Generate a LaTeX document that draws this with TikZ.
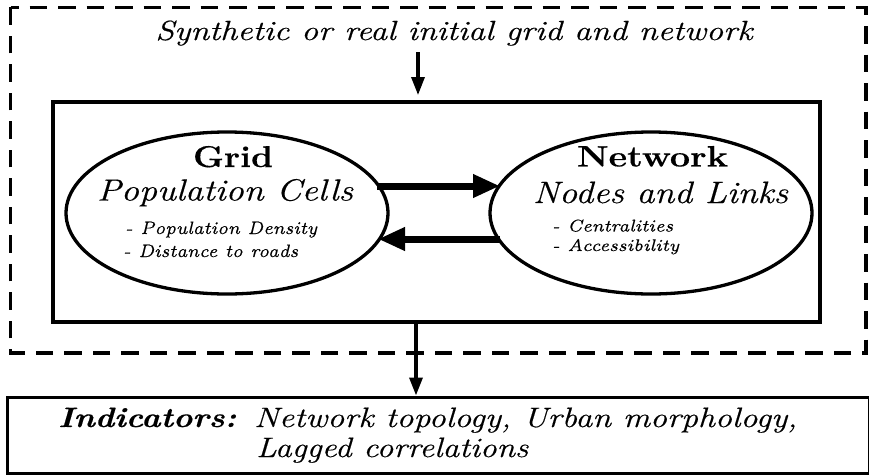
\documentclass[tikz,border=0pt]{standalone}
\usepackage{fontspec}
\setmainfont{Latin Modern Roman}[FakeBold=0.4]
\usetikzlibrary{arrows.meta,shapes.geometric,calc}
% fit a text to a given width and height above baseline (in pt = px)
\newcommand\fitto[4]{\resizebox{#1pt}{#2pt}{\fontsize{#3}{#3}\selectfont #4}}
\begin{document}
\begin{tikzpicture}[x=1pt,y=-1pt,
  thickline/.style={line width=3.3pt},
  lab/.style={inner sep=0pt,anchor=base},
  labw/.style={inner sep=0pt,anchor=base west},
  ell/.style={ellipse,draw,line width=3.3pt,minimum width=322pt,minimum height=162pt,inner sep=0pt},
  bigarrow/.style={line width=7pt,-{Triangle[length=27pt,width=22pt]}},
  smallarrow/.style={line width=3.3pt,-{Triangle[length=18pt,width=13pt]}},
  dashbox/.style={line width=3.3pt,dash pattern=on 17.5pt off 11pt,dash phase=9.5pt}
  ]
\useasboundingbox (0,0) rectangle (869,474);
% outer dashed frame
\draw[dashbox] (10.7,7.3) -- (866,7.3) -- (866,353) -- (10.7,353) -- cycle;
% top text
\node[lab] (src) at (454,40) {\fitto{597}{19.5}{12}{\itshape Synthetic or real initial grid and network}};
% inner box
\node[draw,thickline,minimum width=767pt,minimum height=220pt,inner sep=0pt] (inner) at (436.5,212) {};
% ellipses
\node[ell] (grid) at (227,213) {};
\node[ell] (net) at (651,213) {};
% grid texts
\node[lab] (gt) at (233,167) {\fitto{80}{21}{12}{\bfseries Grid}};
\node[lab] (gs) at (225,200.5) {\fitto{256}{21.5}{12}{\itshape Population Cells}};
\node[labw] (g1) at (125,234) {\fitto{192}{12.5}{7}{\itshape - Population Density}};
\node[labw] (g2) at (123,257) {\fitto{175}{12.5}{7}{\itshape - Distance to roads}};
% network texts
\node[lab] (nt) at (652.5,166.5) {\fitto{151}{20.5}{12}{\bfseries Network}};
\node[lab] (ns) at (660.5,203) {\fitto{255}{21.5}{12}{\itshape Nodes and Links}};
\node[labw] (n1) at (552,231.5) {\fitto{121}{12}{7}{\itshape - Centralities}};
\node[labw] (n2) at (552,251) {\fitto{127}{12}{7}{\itshape - Accessibility}};
% arrows between ellipses
\draw[bigarrow] ($(grid.center)+(150,-27)$) -- ($(net.center)+(-151,-27)$);
\draw[bigarrow] ($(net.center)+(-151,26)$) -- ($(grid.center)+(151,26)$);
% indicators box
\node[draw,line width=3pt,minimum width=862pt,minimum height=76pt,inner sep=0pt] (ind) at (438,435) {};
\node[labw] (i0) at (58,427) {\fitto{178}{19.5}{12}{\bfseries\itshape Indicators:}};
\node[labw] (i1) at (254,427) {\fitto{543}{19.5}{12}{\itshape Network topology, Urban morphology,}};
\node[labw] (i2) at (256,457) {\fitto{272}{19.5}{12}{\itshape Lagged correlations}};
% vertical arrows
\coordinate (a1) at (418,52);
\draw[smallarrow,shorten >=5.3pt] (a1) -- (a1 |- inner.north);
\coordinate (a2) at (416,0);
\draw[smallarrow] (a2 |- inner.south) -- (a2 |- ind.north);
\end{tikzpicture}
\end{document}
